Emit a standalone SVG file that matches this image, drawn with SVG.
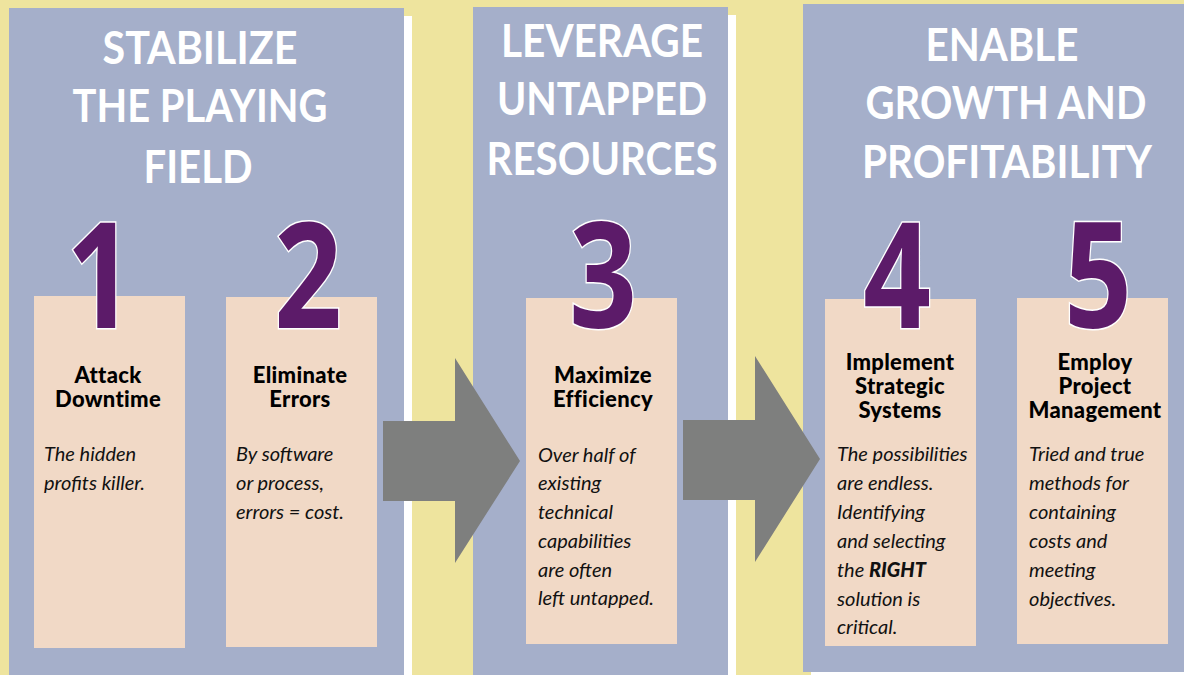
<svg xmlns="http://www.w3.org/2000/svg" width="1184" height="675" viewBox="0 0 1184 675">
<style>
.bg{fill:#EEE49E}
.panel{fill:#A5AFCA}
.shadow{fill:#FFFFFF}
.card{fill:#F1D9C6}
.head{font-family:Lato,"Open Sans",sans-serif;font-weight:700;font-size:45px;fill:#FFFFFF;text-anchor:middle}
.num{font-family:"Open Sans","Noto Sans",sans-serif;font-weight:700;font-size:148px;fill:#5C1B69;stroke:#FFFFFF;stroke-width:3;paint-order:stroke;text-anchor:middle}
.title{font-family:Lato,"Open Sans",sans-serif;font-weight:900;font-size:22px;letter-spacing:0.3px;fill:#000000;text-anchor:middle}
.body{font-family:Lato,"Open Sans",sans-serif;font-style:italic;font-size:20px;fill:#111111}
.arrow{fill:#7E7F7E}
</style>
<rect class="bg" x="0" y="0" width="1184" height="675"/>

<g id="stage1">
  <rect class="shadow" x="404" y="16" width="8" height="659"/>
  <rect class="panel" x="9" y="8" width="395" height="667"/>
  <text class="head" x="200" y="64" textLength="195" lengthAdjust="spacingAndGlyphs">STABILIZE</text>
  <text class="head" x="200" y="122" textLength="255" lengthAdjust="spacingAndGlyphs">THE PLAYING</text>
  <text class="head" x="198" y="183" textLength="109" lengthAdjust="spacingAndGlyphs">FIELD</text>
</g>

<g id="stage2">
  <rect class="shadow" x="728" y="15" width="8" height="660"/>
  <rect class="panel" x="473" y="7" width="255" height="668"/>
  <text class="head" x="602" y="57" textLength="202" lengthAdjust="spacingAndGlyphs">LEVERAGE</text>
  <text class="head" x="602" y="115" textLength="210" lengthAdjust="spacingAndGlyphs">UNTAPPED</text>
  <text class="head" x="602" y="175" textLength="231" lengthAdjust="spacingAndGlyphs">RESOURCES</text>
</g>

<g id="stage3">
  <rect class="shadow" x="811" y="672" width="373" height="3"/>
  <rect class="panel" x="803" y="4" width="381" height="668"/>
  <text class="head" x="1002" y="61" textLength="153" lengthAdjust="spacingAndGlyphs">ENABLE</text>
  <text class="head" x="1006" y="119" textLength="281" lengthAdjust="spacingAndGlyphs">GROWTH AND</text>
  <text class="head" x="1007" y="178" textLength="290" lengthAdjust="spacingAndGlyphs">PROFITABILITY</text>
</g>

<g id="connectors">
  <polygon class="arrow" points="383,421 455,421 455,358 520,461 455,563 455,501 383,501"/>
  <polygon class="arrow" points="683,420 755,420 755,356 820,459 755,562 755,500 683,500"/>
</g>

<g id="step1">
  <rect class="card" x="34" y="296" width="151" height="352"/>
  <text class="num" transform="translate(100,328) scale(0.8,1)">1</text>
  <text class="title" x="108" y="383">Attack</text>
  <text class="title" x="108" y="407">Downtime</text>
  <text class="body" x="44" y="461">The hidden</text>
  <text class="body" x="44" y="490">profits killer.</text>
</g>

<g id="step2">
  <rect class="card" x="226" y="297" width="151" height="350"/>
  <text class="num" transform="translate(308,328) scale(0.8,1)">2</text>
  <text class="title" x="300" y="383">Eliminate</text>
  <text class="title" x="300" y="407">Errors</text>
  <text class="body" x="236" y="461">By software</text>
  <text class="body" x="236" y="490">or process,</text>
  <text class="body" x="236" y="519">errors = cost.</text>
</g>

<g id="step3">
  <rect class="card" x="526" y="298" width="151" height="346"/>
  <text class="num" transform="translate(603,328) scale(0.8,1)">3</text>
  <text class="title" x="603" y="383">Maximize</text>
  <text class="title" x="603" y="407">Efficiency</text>
  <text class="body" x="538" y="462">Over half of</text>
  <text class="body" x="538" y="490">existing</text>
  <text class="body" x="538" y="519">technical</text>
  <text class="body" x="538" y="548">capabilities</text>
  <text class="body" x="538" y="577">are often</text>
  <text class="body" x="538" y="605">left untapped.</text>
</g>

<g id="step4">
  <rect class="card" x="825" y="299" width="151" height="347"/>
  <text class="num" transform="translate(897,328) scale(0.8,1)">4</text>
  <text class="title" x="900" y="370">Implement</text>
  <text class="title" x="900" y="394">Strategic</text>
  <text class="title" x="900" y="418">Systems</text>
  <text class="body" x="837" y="461">The possibilities</text>
  <text class="body" x="837" y="490">are endless.</text>
  <text class="body" x="837" y="519">Identifying</text>
  <text class="body" x="837" y="548">and selecting</text>
  <text class="body" x="837" y="577">the <tspan font-weight="900">RIGHT</tspan></text>
  <text class="body" x="837" y="606">solution is</text>
  <text class="body" x="837" y="634">critical.</text>
</g>

<g id="step5">
  <rect class="card" x="1017" y="298" width="151" height="346"/>
  <text class="num" transform="translate(1098,328) scale(0.8,1)">5</text>
  <text class="title" x="1095" y="370">Employ</text>
  <text class="title" x="1095" y="394">Project</text>
  <text class="title" x="1095" y="418">Management</text>
  <text class="body" x="1029" y="461">Tried and true</text>
  <text class="body" x="1029" y="490">methods for</text>
  <text class="body" x="1029" y="519">containing</text>
  <text class="body" x="1029" y="548">costs and</text>
  <text class="body" x="1029" y="577">meeting</text>
  <text class="body" x="1029" y="606">objectives.</text>
</g>
</svg>
